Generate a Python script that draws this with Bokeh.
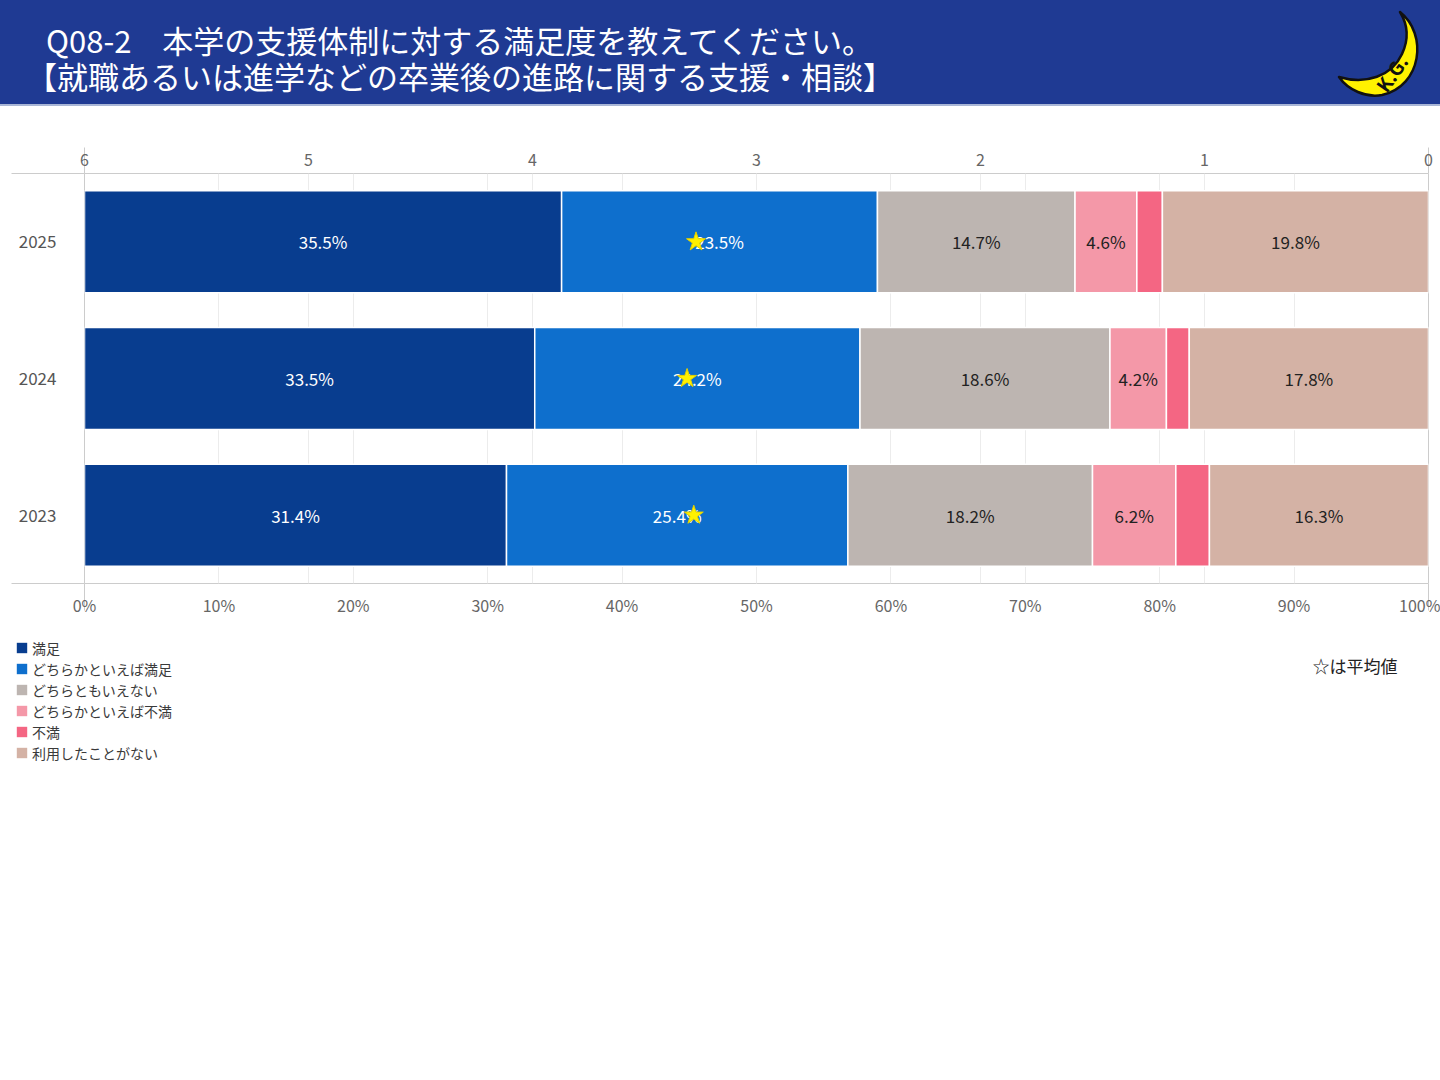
from bokeh.plotting import figure
from bokeh.models import (Range1d, LinearAxis, FixedTicker, ColumnDataSource, Legend,
                          LegendItem, Label, Div, PrintfTickFormatter)
from bokeh.layouts import column
from bokeh.core.properties import value
from bokeh.embed import file_html
from bokeh.resources import INLINE

# ---------------- data ----------------
years = ["2025", "2024", "2023"]
categories = ["満足", "どちらかといえば満足", "どちらともいえない",
              "どちらかといえば不満", "不満", "利用したことがない"]
satisfied = [35.5, 33.5, 31.4]
rather_satisfied = [23.5, 24.2, 25.4]
neutral = [14.7, 18.6, 18.2]
rather_dissatisfied = [4.6, 4.2, 6.2]
dissatisfied = [1.9, 1.7, 2.5]
never_used = [19.8, 17.8, 16.3]
average_score = [3.27, 3.31, 3.28]
pct_ticks = [0, 10, 20, 30, 40, 50, 60, 70, 80, 90, 100]
score_ticks = [6, 5, 4, 3, 2, 1, 0]
note_text = "☆は平均値"

series = [satisfied, rather_satisfied, neutral, rather_dissatisfied, dissatisfied, never_used]
colors = ["#083D8F", "#0E6FCD", "#BDB5B1", "#F498A8", "#F46683", "#D4B2A5"]
label_colors = ["#ffffff", "#ffffff", "#222222", "#222222", None, "#222222"]

FONT = "Noto Sans CJK JP"
n = len(years)
ypos = [n - i - 0.5 for i in range(n)]

# ---------------- header ----------------
moon_svg = (
    '<svg style="position:absolute;left:1330px;top:0px" width="110" height="106">'
    '<path d="M 70 12 C 98 34, 92 86, 52 95 C 36 98, 18 90, 9 77 '
    'C 36 85, 62 76, 72 54 C 79 39, 78 25, 70 12 Z" '
    'fill="#FFF200" stroke="#111" stroke-width="2.5" stroke-linejoin="round"/>'
    '<text x="0" y="0" transform="translate(57,94) rotate(-55)" '
    'font-family="DejaVu Sans" font-size="19" font-weight="bold" fill="#111">K.G.</text>'
    '</svg>'
)
header_html = (
    '<div style="position:relative;width:1440px;height:106px;background:#1F3A93;'
    'border-bottom:2px solid #A9B6D6;box-sizing:border-box;'
    f"font-family:'{FONT}';color:#ffffff;\">"
    '<div style="position:absolute;left:46px;top:23px;font-size:31px;line-height:34px;white-space:nowrap;">'
    'Q08-2　本学の支援体制に対する満足度を教えてください。</div>'
    '<div style="position:absolute;left:26px;top:59px;font-size:31px;line-height:34px;white-space:nowrap;">'
    '【就職あるいは進学などの卒業後の進路に関する支援・相談】</div>'
    + moon_svg +
    '</div>'
)
header = Div(text=header_html, width=1440, height=106, margin=(0, 0, 0, 0))

# ---------------- chart figure ----------------
p = figure(width=1440, height=524, x_range=Range1d(0, 100), y_range=Range1d(0, n),
           output_backend="svg", toolbar_location=None,
           min_border_left=84, min_border_right=12, min_border_top=67, min_border_bottom=47,
           margin=(0, 0, 0, 0))
p.extra_x_ranges = {"score": Range1d(score_ticks[0], score_ticks[-1])}
p.outline_line_color = "#cccccc"
p.background_fill_color = "white"
p.border_fill_color = "white"
p.ygrid.visible = False
smax = score_ticks[0]
p.xgrid.ticker = FixedTicker(ticks=pct_ticks + [(smax - s) / smax * 100 for s in score_ticks])
p.xgrid.grid_line_color = "#ececec"

stacks = []
left = [0.0] * n
txt_x, txt_y, txt_t, txt_c = [], [], [], []
for vals, col, lcol in zip(series, colors, label_colors):
    right = [l + v for l, v in zip(left, vals)]
    stacks.append((list(left), right))
    p.hbar(y=ypos, left=list(left), right=right, height=0.746,
           fill_color=col, line_color="white", line_width=1.5)
    if lcol is not None:
        for i in range(n):
            txt_x.append((left[i] + right[i]) / 2)
            txt_y.append(ypos[i])
            txt_t.append(f"{vals[i]:.1f}%")
            txt_c.append(lcol)
    left = right

tsrc = ColumnDataSource(dict(x=txt_x, y=txt_y, t=txt_t, c=txt_c))
p.text(x="x", y="y", text="t", text_color="c", source=tsrc, text_align="center",
       text_baseline="middle", text_font=value(FONT), text_font_size=value("17px"))

p.scatter(x=average_score, y=ypos, marker="star", size=20, fill_color="#FFF100",
          line_color="#E3D000", line_width=1, x_range_name="score")

lab_style = dict(major_label_text_font=FONT, major_label_text_color="#666666",
                 major_label_text_font_size="16px", axis_line_color=None,
                 major_tick_in=0, major_tick_out=0, minor_tick_in=0,
                 minor_tick_line_color="#cccccc")

xa = p.xaxis[0]
xa.ticker = FixedTicker(ticks=pct_ticks, minor_ticks=[pct_ticks[0], pct_ticks[-1]])
xa.formatter = PrintfTickFormatter(format="%d%%")
xa.update(minor_tick_out=27, major_label_standoff=-18, **lab_style)

ya = p.yaxis[0]
ya.ticker = FixedTicker(ticks=ypos, minor_ticks=[0, n])
ya.major_label_overrides = {y: yr for y, yr in zip(ypos, years)}
ya.update(minor_tick_out=73, major_label_standoff=-45, **lab_style)
ya.major_label_text_color = "#555555"
ya.major_label_text_font_size = "17px"

ta = LinearAxis(x_range_name="score",
                ticker=FixedTicker(ticks=score_ticks, minor_ticks=[score_ticks[0], score_ticks[-1]]))
ta.update(minor_tick_out=26, major_label_standoff=-18, **lab_style)
p.add_layout(ta, "above")

# ---------------- legend figure (own frame, no axes) ----------------
q = figure(width=1440, height=150, x_range=Range1d(-2, -1), y_range=Range1d(0, n),
           output_backend="svg", toolbar_location=None,
           x_axis_location=None, y_axis_location=None,
           min_border_left=0, min_border_right=0, min_border_top=0, min_border_bottom=0,
           margin=(0, 0, 0, 0))
q.grid.visible = False
q.outline_line_color = None
q.border_fill_color = "white"
q.background_fill_color = "white"
for fig in (p, q):
    try:
        fig.frame_align = False
    except Exception:
        pass

leg_renderers = []
for (l, r), col in zip(stacks, colors):
    leg_renderers.append(q.hbar(y=ypos, left=l, right=r, height=0.746, fill_color=col,
                                line_color=None))
legend = Legend(items=[LegendItem(label=c, renderers=[r]) for c, r in zip(categories, leg_renderers)],
                location=(15, 17), orientation="vertical", glyph_width=13, glyph_height=13,
                label_standoff=4, label_height=21, spacing=0, padding=0, margin=0,
                border_line_color=None, background_fill_alpha=0,
                label_text_font=FONT, label_text_font_size="14px", label_text_color="#3a3a3a")
q.add_layout(legend)

note = Label(x=1312, y=115, x_units="screen", y_units="screen", text=note_text,
             text_font=FONT, text_font_size="17px", text_baseline="middle", text_color="#222222")
q.add_layout(note)

layout = column(header, p, q, spacing=0,
                styles={"position": "absolute", "left": "0px", "top": "0px"})

open("out.html", "w").write(file_html(layout, INLINE))
